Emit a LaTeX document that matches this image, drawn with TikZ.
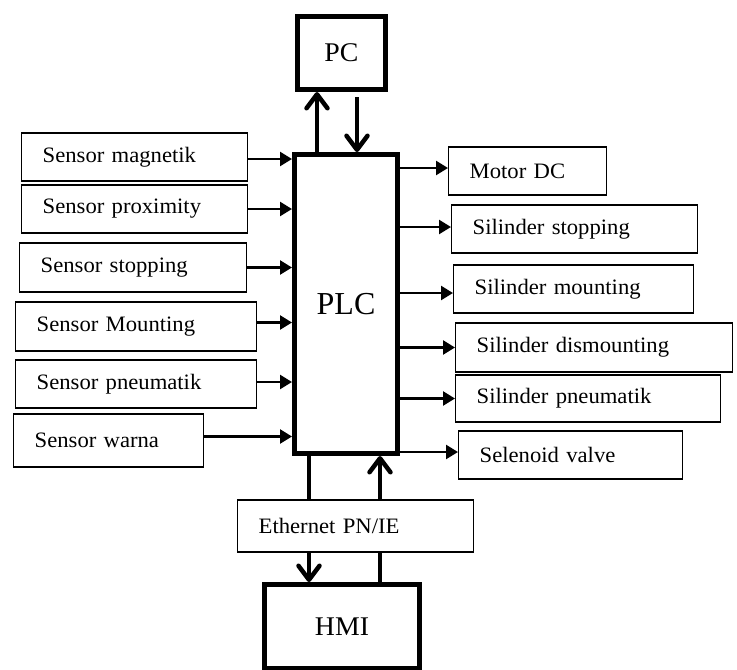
\documentclass[tikz,border=0pt]{standalone}
\usepackage{fontspec}
\setmainfont{Liberation Serif}
\newfontfamily\labelfont{Liberation Serif}[FakeStretch=1.03]
\usetikzlibrary{arrows.meta}

\tikzset{
  unitbox/.style={draw, line width=1.4pt, fill=white, anchor=west, align=left,
    inner xsep=21pt, inner ysep=0pt, minimum height=48pt,
    font=\labelfont\fontsize{22}{25}\selectfont},
  mainbox/.style={draw, line width=5pt, fill=white, inner sep=0pt},
  signal/.style={line width=2.4pt, -{Triangle[length=12pt,width=14pt]}},
  bus/.style={line width=4.5pt},
  busarrow/.style={line width=4.5pt, -{Straight Barb[length=14pt,width=21pt,round]}}
}

\begin{document}
\begin{tikzpicture}[x=1pt, y=-1pt]
\useasboundingbox (0,0) rectangle (737,670);

% central controller, PC and HMI
\node[mainbox, minimum width=103pt, minimum height=299pt] (plc) at (346,304)
  {\fontsize{32}{35}\selectfont PLC};
\node[mainbox, minimum width=88pt, minimum height=73pt] (pc) at (341.5,53)
  {\labelfont\fontsize{27}{30}\selectfont PC};
\node[mainbox, minimum width=155pt, minimum height=84pt] (hmi) at (342,626.5)
  {\labelfont\fontsize{27}{30}\selectfont HMI};
\node[unitbox, minimum height=52pt, text width=194pt] (eth) at (237,526) {Ethernet PN/IE};

% input devices
\node[unitbox, text width=184pt] (s1) at (21,157) {Sensor magnetik};
\node[unitbox, text width=184pt] (s2) at (21,209) {Sensor proximity};
\node[unitbox, minimum height=49pt, text width=185pt] (s3) at (19,267.5) {Sensor stopping};
\node[unitbox, minimum height=49pt, text width=199pt] (s4) at (15,326.5) {Sensor Mounting};
\node[unitbox, text width=199pt] (s5) at (15,384) {Sensor pneumatik};
\node[unitbox, minimum height=53pt, text width=148pt] (s6) at (13,440.5) {Sensor warna};

% output devices
\node[unitbox, text width=116pt] (r1) at (448,171) {Motor DC};
\node[unitbox, text width=204pt] (r2) at (451,229) {Silinder stopping};
\node[unitbox, text width=198pt] (r3) at (453,289) {Silinder mounting};
\node[unitbox, minimum height=49pt, text width=235pt] (r4) at (455,347.5) {Silinder dismounting};
\node[unitbox, minimum height=47pt, text width=223pt] (r5) at (455,398.5) {Silinder pneumatik};
\node[unitbox, text width=182pt] (r6) at (458,455) {Selenoid valve};

% sensor signals into the PLC
\draw[signal] ([yshift=-2pt]s1.east) -- ([yshift=-2pt]s1.east -| plc.west);
\draw[signal] (s2.east) -- (s2.east -| plc.west);
\draw[signal] (s3.east) -- (s3.east -| plc.west);
\draw[signal] ([yshift=4pt]s4.east) -- ([yshift=4pt]s4.east -| plc.west);
\draw[signal] ([yshift=2pt]s5.east) -- ([yshift=2pt]s5.east -| plc.west);
\draw[signal] ([yshift=4pt]s6.east) -- ([yshift=4pt]s6.east -| plc.west);

% PLC outputs to the actuators
\draw[signal] ([yshift=3pt]r1.west -| plc.east) -- ([yshift=3pt]r1.west);
\draw[signal] ([yshift=2pt]r2.west -| plc.east) -- ([yshift=2pt]r2.west);
\draw[signal] ([yshift=-4pt]r3.west -| plc.east) -- ([yshift=-4pt]r3.west);
\draw[signal] (r4.west -| plc.east) -- (r4.west);
\draw[signal] (r5.west -| plc.east) -- (r5.west);
\draw[signal] ([yshift=3pt]r6.west -| plc.east) -- ([yshift=3pt]r6.west);

% PC link
\draw[busarrow] (plc.north -| 317,0) -- (pc.south -| 317,0);
\draw[busarrow] ([yshift=-5pt]pc.south -| 357,0) -- (plc.north -| 357,0);

% HMI link through the Ethernet network
\draw[bus] (plc.south -| 309,0) -- (eth.north -| 309,0);
\draw[busarrow] (eth.south -| 309,0) -- (hmi.north -| 309,0);
\draw[bus] (hmi.north -| 380,0) -- (eth.south -| 380,0);
\draw[busarrow] (eth.north -| 380,0) -- (plc.south -| 380,0);
\end{tikzpicture}
\end{document}
